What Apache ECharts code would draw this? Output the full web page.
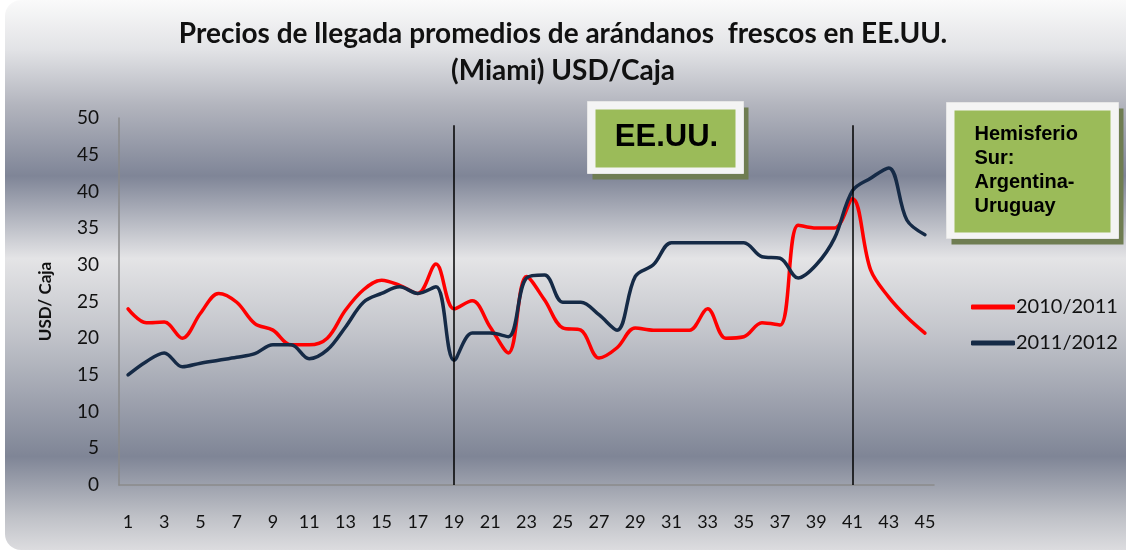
<!DOCTYPE html>
<html>
<head>
<meta charset="utf-8">
<script src="https://cdn.jsdelivr.net/npm/echarts@6/dist/echarts.min.js"></script>
<style>
html,body{margin:0;padding:0;background:#ffffff;}
#chart{width:1126px;height:550px;}
</style>
</head>
<body>
<div id="chart"></div>
<script>
const categories = ['1','2','3','4','5','6','7','8','9','10','11','12','13','14','15','16','17','18','19','20','21','22','23','24','25','26','27','28','29','30','31','32','33','34','35','36','37','38','39','40','41','42','43','44','45'];
const series2010 = [24.0,22.1,22.2,20.0,23.4,26.1,24.9,22.0,21.1,19.1,19.1,20.0,23.8,26.6,27.9,27.2,26.1,30.1,24.0,25.1,21.5,18.0,28.4,25.2,21.4,21.1,17.3,18.7,21.4,21.1,21.1,21.1,24.0,20.0,20.2,22.1,21.8,35.4,35.0,35.0,39.0,29.3,25.6,22.9,20.7];
const series2011 = [15.0,16.8,18.0,16.1,16.6,17.0,17.4,17.9,19.1,19.1,17.2,18.4,21.5,24.9,26.1,27.0,26.1,27.0,17.0,20.7,20.7,20.2,28.2,28.6,24.9,24.9,23.2,21.1,28.4,30.0,33.0,33.0,33.0,33.0,33.0,31.1,30.9,28.2,30.0,33.6,40.1,41.8,43.2,36.1,34.1];
const seriesNames = ['2010/2011','2011/2012'];
const markerCategories = ['19','41'];
const titleLines = ['Precios de llegada promedios de arándanos  frescos en EE.UU.','(Miami) USD/Caja'];
const yAxisName = 'USD/ Caja';
const boxTexts = ['EE.UU.','Hemisferio\nSur:\nArgentina-\nUruguay'];

const chart = echarts.init(document.getElementById('chart'), null, {renderer:'canvas'});

const bgGradient = new echarts.graphic.LinearGradient(0,0,0,1,[
  {offset:0.00,color:'#fafafa'},
  {offset:0.09,color:'#e2e3e6'},
  {offset:0.19,color:'#b3b5be'},
  {offset:0.32,color:'#7f8597'},
  {offset:0.47,color:'#e4e4e6'},
  {offset:0.60,color:'#c4c6cc'},
  {offset:0.83,color:'#7f8596'},
  {offset:0.94,color:'#bfc1c7'},
  {offset:1.00,color:'#dcdcdf'}
]);

function greenBox(x, y, w, h, text, textStyle){
  return {
    type:'group', left:x, top:y, z:10,
    children:[
      {type:'rect', shape:{x:5,y:6,width:w,height:h}, style:{fill:'#6f7d52'}},
      {type:'rect', shape:{x:0,y:0,width:w,height:h}, style:{fill:'#f4f4f4', stroke:'#e6e6e6', lineWidth:1}},
      {type:'rect', shape:{x:8,y:8,width:w-16,height:h-14}, style:{fill:'#9bbb59'}},
      Object.assign({type:'text'}, textStyle(text, w, h))
    ]
  };
}

const option = {
  backgroundColor:'transparent',
  animation:false,
  graphic:[
    {type:'rect', left:5, top:0, z:-10, shape:{width:1140, height:550, r:[16,0,0,16]}, style:{fill:bgGradient}},
    {type:'text', left:'center', top:15, z:5,
      style:{text:titleLines.join('\n'), fontFamily:'Lato', fontWeight:'bold', fontSize:28, lineHeight:37, fill:'#111', textAlign:'center'}},
    greenBox(587, 101, 156, 72, boxTexts[0], (t,w,h)=>({style:{x:w/2+1, y:h/2, text:t, fontFamily:'Liberation Sans', fontWeight:'bold', fontSize:31, fill:'#000', textAlign:'center', textVerticalAlign:'middle'}})),
    greenBox(946, 102, 172, 136, boxTexts[1], (t,w,h)=>({style:{x:28, y:20, text:t, fontFamily:'Liberation Sans', fontWeight:'bold', fontSize:20, lineHeight:24, fill:'#000', textAlign:'left', textVerticalAlign:'top'}}))
  ],
  legend:{
    orient:'vertical', left:966, top:292, itemGap:16, itemWidth:44, itemHeight:5,
    icon:'roundRect',
    textStyle:{fontFamily:'Lato', fontSize:20, color:'#111', padding:[0,0,0,-4]},
    data:seriesNames
  },
  grid:{left:119, right:192, top:118, bottom:65, containLabel:false},
  xAxis:{
    type:'category', data:categories, boundaryGap:true,
    axisLine:{show:true, lineStyle:{color:'#8a8a8a', width:1.5}},
    axisTick:{show:false},
    axisLabel:{interval:1, margin:28, fontFamily:'Lato', fontSize:18, color:'#111'},
    splitLine:{show:false}
  },
  yAxis:{
    type:'value', min:0, max:50, interval:5,
    name:yAxisName, nameLocation:'middle', nameRotate:90, nameGap:65,
    nameTextStyle:{fontFamily:'Lato', fontWeight:'bold', fontSize:17, color:'#111'},
    axisLine:{show:true, lineStyle:{color:'#8a8a8a', width:1.5}},
    axisTick:{show:false},
    axisLabel:{margin:20, fontFamily:'Lato', fontSize:19, color:'#111'},
    splitLine:{show:false}
  },
  series:[
    {
      name:seriesNames[0], type:'line', data:series2010, smooth:0.35, symbol:'none',
      lineStyle:{color:'#ff0000', width:3.5, cap:'round', join:'round'}, itemStyle:{color:'#ff0000'}, z:3,
      markLine:{
        silent:true, symbol:['none','none'], label:{show:false},
        lineStyle:{color:'#000', width:1.5, type:'solid'},
        data: markerCategories.map(c => [{coord:[c,49]},{coord:[c,0]}])
      }
    },
    {
      name:seriesNames[1], type:'line', data:series2011, smooth:0.35, symbol:'none',
      lineStyle:{color:'#152a46', width:3.5, cap:'round', join:'round'}, itemStyle:{color:'#152a46'}, z:4
    }
  ]
};
chart.setOption(option);
</script>
</body>
</html>
